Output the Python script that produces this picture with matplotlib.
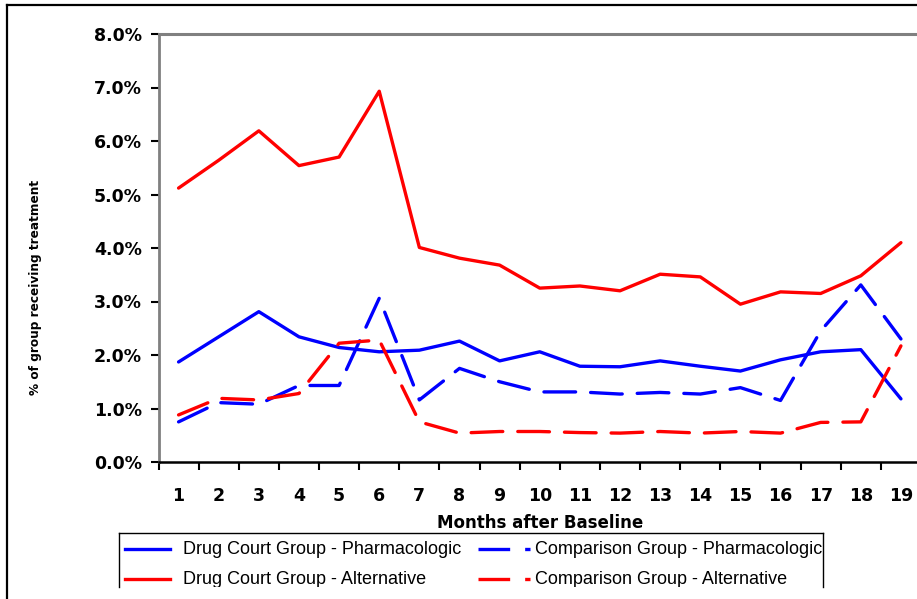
import matplotlib
matplotlib.use("Agg")
import matplotlib.pyplot as plt
from matplotlib.lines import Line2D
from matplotlib.patches import Rectangle
from matplotlib.ticker import FixedLocator, FuncFormatter

plt.rcParams['font.family'] = ['Liberation Sans', 'DejaVu Sans']

months = list(range(1, 20))
dc_pharm = [1.87, 2.34, 2.81, 2.34, 2.14, 2.06, 2.09, 2.26, 1.89, 2.06,
            1.79, 1.78, 1.89, 1.79, 1.70, 1.91, 2.06, 2.10, 1.18]
cmp_pharm = [0.75, 1.11, 1.08, 1.43, 1.43, 3.06, 1.16, 1.75, 1.50, 1.31,
             1.31, 1.27, 1.30, 1.27, 1.39, 1.15, 2.45, 3.31, 2.30]
dc_alt = [5.12, 5.64, 6.19, 5.54, 5.70, 6.93, 4.01, 3.81, 3.68, 3.25,
          3.29, 3.20, 3.51, 3.46, 2.95, 3.18, 3.15, 3.48, 4.10]
cmp_alt = [0.88, 1.19, 1.16, 1.28, 2.22, 2.28, 0.75, 0.54, 0.57, 0.57,
           0.55, 0.54, 0.57, 0.54, 0.57, 0.54, 0.74, 0.75, 2.17]
yticks = [0, 1, 2, 3, 4, 5, 6, 7, 8]

series = [
    ("Drug Court Group - Pharmacologic", dc_pharm, "#0000FF", "solid"),
    ("Comparison Group - Pharmacologic", cmp_pharm, "#0000FF", "dashed"),
    ("Drug Court Group - Alternative", dc_alt, "#FF0000", "solid"),
    ("Comparison Group - Alternative", cmp_alt, "#FF0000", "dashed"),
]

BOLD = ['DejaVu Sans']

W, H = 917, 599
fig = plt.figure(figsize=(W / 100, H / 100), dpi=100)

def fx(px):
    return px / W

def fy(py):
    return 1 - py / H

ax_l, ax_r, ax_t, ax_b = 158.5, 921.0, 34.0, 462.0
ax = fig.add_axes([fx(ax_l), fy(ax_b), fx(ax_r - ax_l), (ax_b - ax_t) / H])

lw = 2.4
for name, vals, col, style in series:
    if style == "solid":
        ax.plot(months, vals, color=col, lw=lw, solid_capstyle='round', solid_joinstyle='round')
    else:
        ax.plot(months, vals, color=col, lw=lw, dashes=(9.5, 4.5), dash_capstyle='round')

ax.set_xlim(0.5, 19.5)
ax.set_ylim(0, 8)
ax.yaxis.set_major_locator(FixedLocator(yticks))
ax.yaxis.set_major_formatter(FuncFormatter(lambda v, p: f"{v:.1f}%"))
ax.set_xticks(months)
ax.set_xticklabels([str(m) for m in months])
ax.xaxis.set_minor_locator(FixedLocator([m + 0.5 for m in range(0, 20)]))
ax.tick_params(axis='x', which='major', length=0, pad=18)
ax.tick_params(axis='x', which='minor', length=6, width=1.5, direction='out', color='black')
ax.tick_params(axis='y', which='major', length=6, width=1.5, direction='out', color='black', pad=6)
for lab in ax.get_xticklabels() + ax.get_yticklabels():
    lab.set_fontsize(12.5)
    lab.set_fontweight('bold')
    lab.set_family(BOLD)

ax.spines['right'].set_visible(False)
ax.spines['left'].set_color('#808080')
ax.spines['left'].set_linewidth(2)
ax.spines['top'].set_color('#808080')
ax.spines['top'].set_linewidth(2.2)
ax.spines['bottom'].set_color('black')
ax.spines['bottom'].set_linewidth(1.8)

fig.text(fx(36), fy(287), "% of group receiving treatment", rotation=90,
         ha='center', va='center', fontsize=8.7, fontweight='bold', family=BOLD)
fig.text(fx(540), fy(523), "Months after Baseline", ha='center', va='center',
         fontsize=12, fontweight='bold', family=BOLD)

# outer border (left and top)
fig.add_artist(Line2D([fx(7), fx(7)], [fy(5), fy(599)], color='black', lw=1.6))
fig.add_artist(Line2D([fx(7), fx(917)], [fy(5), fy(5)], color='black', lw=1.6))

# legend box (bottom cut off)
lg_l, lg_r, lg_t, lg_b = 118.5, 822.5, 533.0, 587.0
fig.add_artist(Line2D([fx(lg_l), fx(lg_l)], [fy(lg_b), fy(lg_t)], color='black', lw=1.0))
fig.add_artist(Line2D([fx(lg_r), fx(lg_r)], [fy(lg_b), fy(lg_t)], color='black', lw=1.0))
fig.add_artist(Line2D([fx(lg_l), fx(lg_r)], [fy(lg_t), fy(lg_t)], color='black', lw=1.0))
clip = Rectangle((fx(lg_l), fy(lg_b)), fx(lg_r - lg_l), (lg_b - lg_t) / H,
                 transform=fig.transFigure, fill=False, visible=False)
fig.add_artist(clip)

rows = [549, 579]
cols = [(125, 170, 183), (478, 530, 535)]
positions = [(0, 0), (0, 1), (1, 0), (1, 1)]
for (name, vals, col, style), (r, c) in zip(series, positions):
    x0, x1, xt = cols[c]
    y = rows[r]
    if style == "solid":
        ln = Line2D([fx(x0), fx(x1)], [fy(y), fy(y)], color=col, lw=2.4)
    else:
        ln = Line2D([fx(x0), fx(x1)], [fy(y), fy(y)], color=col, lw=2.4, dashes=(9.5, 4.5))
    fig.add_artist(ln)
    t = fig.text(fx(xt), fy(y), name, ha='left', va='center', fontsize=13)
    t.set_clip_path(clip)

fig.savefig("out.png", dpi=100)
